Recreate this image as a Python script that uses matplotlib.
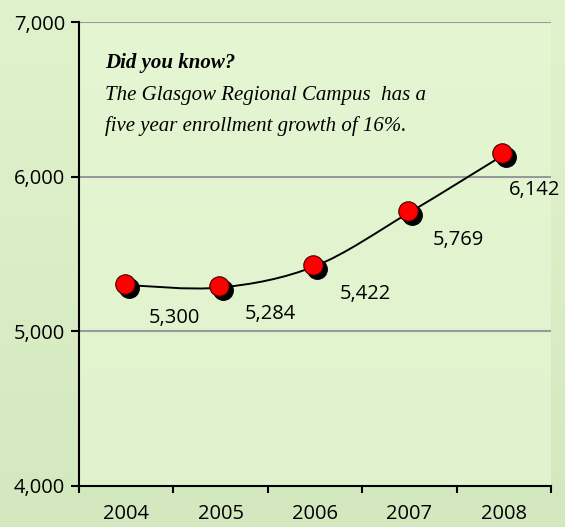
import numpy as np
import matplotlib.pyplot as plt
from matplotlib.path import Path
from matplotlib.patches import PathPatch
from matplotlib.transforms import offset_copy

years = ["2004", "2005", "2006", "2007", "2008"]
enrollment = [5300, 5284, 5422, 5769, 6142]
value_labels = ["5,300", "5,284", "5,422", "5,769", "6,142"]
yticks = [4000, 5000, 6000, 7000]
ytick_labels = ["4,000", "5,000", "6,000", "7,000"]

fig = plt.figure(figsize=(5.65, 5.27), dpi=100)

# gradient background for the whole figure
bg = fig.add_axes([0, 0, 1, 1], zorder=-10)
grad = np.linspace(0, 1, 256).reshape(-1, 1)
top = np.array([0.88, 0.95, 0.80])
bot = np.array([0.83, 0.91, 0.75])
img = top[None, None, :] * (1 - grad[:, :, None]) + bot[None, None, :] * grad[:, :, None]
bg.imshow(img, aspect="auto", extent=[0, 1, 0, 1])
bg.axis("off")

ax = fig.add_axes([0.140, 0.0778, 0.835, 0.880])
ax.patch.set_facecolor("#e6f8d4")
ax.patch.set_alpha(0.7)

x = np.arange(len(years))
y = np.array(enrollment, dtype=float)

# smoothed line (Catmull-Rom converted to cubic Bezier segments)
pts = np.column_stack([x, y])
verts = [pts[0]]
codes = [Path.MOVETO]
for i in range(len(pts) - 1):
    p0 = pts[i - 1] if i > 0 else pts[i]
    p1 = pts[i]
    p2 = pts[i + 1]
    p3 = pts[i + 2] if i + 2 < len(pts) else pts[i + 1]
    c1 = p1 + (p2 - p0) / 6
    c2 = p2 - (p3 - p1) / 6
    verts += [c1, c2, p2]
    codes += [Path.CURVE4] * 3
ax.add_patch(PathPatch(Path(verts, codes), fill=False, edgecolor="black", lw=1.4, zorder=3))

# shadow + red markers
shadow = offset_copy(ax.transData, fig=fig, x=2.5, y=-2.5, units="dots")
front = offset_copy(ax.transData, fig=fig, x=-1.5, y=1.5, units="dots")
ax.plot(x, y, "o", ms=14, color="black", transform=shadow, zorder=4)
ax.plot(x, y, "o", ms=14, mfc="#ff0000", mec="#400000", mew=0.8, transform=front, zorder=5)

offsets = [(35, -24), (36, -19), (36, -20), (35, -20), (22, -25)]
for xi, yi, lab, off in zip(x, y, value_labels, offsets):
    ax.annotate(lab, (xi, yi), xytext=off, textcoords="offset points",
                ha="center", va="center", fontsize=14.5, family="Open Sans", color="black")

ax.set_xlim(-0.5, 4.5)
ax.set_ylim(4000, 7000)
ax.set_yticks(yticks)
ax.set_yticklabels(ytick_labels, family="Open Sans", fontsize=14.5)
ax.set_xticks(x)
ax.set_xticklabels(years, family="Open Sans", fontsize=14.5)
ax.set_xticks(np.arange(-0.5, 5, 1), minor=True)
ax.tick_params(axis="x", which="major", length=0, pad=13)
ax.tick_params(axis="x", which="minor", length=5, width=1.5, direction="out")
ax.tick_params(axis="y", length=6, width=1.5, direction="out", pad=4)

for yv in yticks[1:]:
    ax.axhline(yv, color="#999999", lw=1.5, zorder=1)

for s in ["top", "right"]:
    ax.spines[s].set_visible(False)
ax.spines["left"].set_linewidth(1.5)
ax.spines["bottom"].set_linewidth(1.5)
ax.set_axisbelow(True)

ax.text(0.055, 0.912, "Did you know?", transform=ax.transAxes, fontsize=15,
        family="Liberation Serif", style="italic", weight="bold", va="center")
ax.text(0.055, 0.843, "The Glasgow Regional Campus  has a", transform=ax.transAxes,
        fontsize=15, family="Liberation Serif", style="italic", va="center")
ax.text(0.055, 0.776, "five year enrollment growth of 16%.", transform=ax.transAxes,
        fontsize=15, family="Liberation Serif", style="italic", va="center")

fig.savefig("out.png", dpi=100)
